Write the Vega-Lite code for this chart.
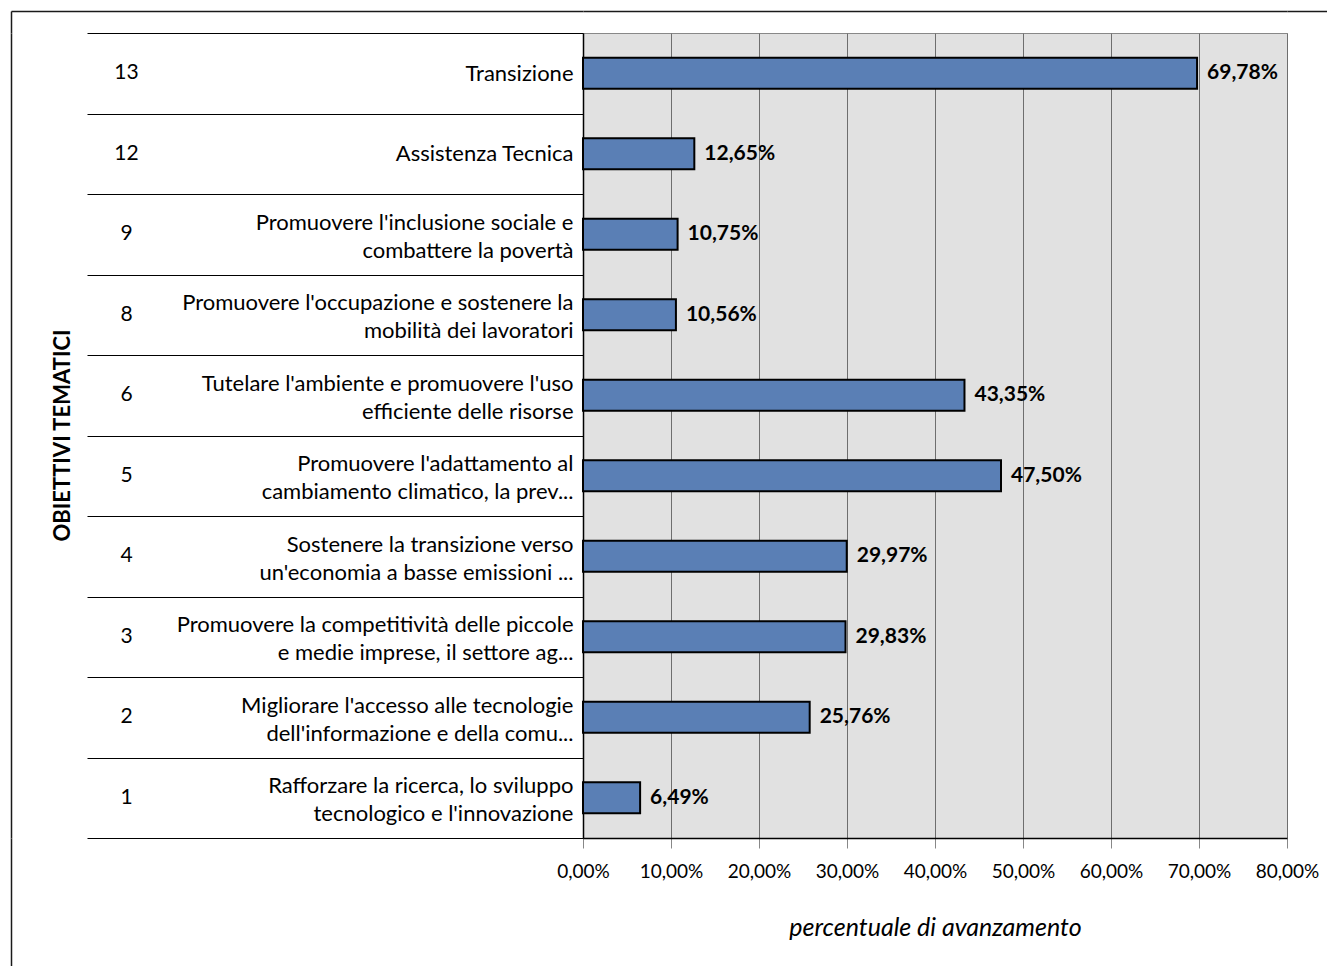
{
  "$schema": "https://vega.github.io/schema/vega-lite/v6.json",
  "width": 704,
  "height": 805,
  "autosize": {"type": "none"},
  "padding": {"left": 583, "top": 33, "right": 40, "bottom": 128},
  "background": "white",
  "config": {
    "locale": {"number": {"decimal": ",", "thousands": ".", "grouping": [3], "currency": ["€", ""]}},
    "font": "Lato",
    "view": {"fill": "#e1e1e1", "stroke": "#888888", "strokeWidth": 1}
  },
  "data": {
    "values": [
      {"num": 13, "obiettivo": "Transizione", "pct": 0.6978},
      {"num": 12, "obiettivo": "Assistenza Tecnica", "pct": 0.1265},
      {"num": 9, "obiettivo": "Promuovere l'inclusione sociale e\ncombattere la povertà", "pct": 0.1075},
      {"num": 8, "obiettivo": "Promuovere l'occupazione e sostenere la\nmobilità dei lavoratori", "pct": 0.1056},
      {"num": 6, "obiettivo": "Tutelare l'ambiente e promuovere l'uso\nefficiente delle risorse", "pct": 0.4335},
      {"num": 5, "obiettivo": "Promuovere l'adattamento al\ncambiamento climatico, la prev...", "pct": 0.475},
      {"num": 4, "obiettivo": "Sostenere la transizione verso\nun'economia a basse emissioni ...", "pct": 0.2997},
      {"num": 3, "obiettivo": "Promuovere la competitività delle piccole\ne medie imprese, il settore ag...", "pct": 0.2983},
      {"num": 2, "obiettivo": "Migliorare l'accesso alle tecnologie\ndell'informazione e della comu...", "pct": 0.2576},
      {"num": 1, "obiettivo": "Rafforzare la ricerca, lo sviluppo\ntecnologico e l'innovazione", "pct": 0.0649}
    ]
  },
  "layer": [
    {
      "layer": [
        {
          "mark": {"type": "bar", "size": 31, "fill": "#5a7fb5", "stroke": "#000000", "strokeWidth": 2},
          "encoding": {
            "y": {
              "field": "obiettivo", "type": "nominal",
              "sort": {"field": "num", "op": "max", "order": "descending"},
              "scale": {"type": "band", "paddingInner": 0, "paddingOuter": 0},
              "axis": {
                "title": null,
                "orient": "left",
                "labelExpr": "isValid(datum.value) ? split(datum.value, '\\n') : ''",
                "tickBand": "extent",
                "tickSize": 496,
                "tickColor": "#000000",
                "tickWidth": 1,
                "labelPadding": -486,
                "labelFontSize": 22,
                "labelLineHeight": 28,
                "labelOffset": {"condition": {"test": "isValid(datum.value) && indexof(datum.value, '\\n') >= 0", "value": -12}, "value": 0},
                "labelLimit": 600,
                "labelColor": "#000000",
                "labelOverlap": false,
                "domainColor": "#000000",
                "domainWidth": 1.5,
                "grid": false
              }
            },
            "x": {
              "field": "pct", "type": "quantitative",
              "scale": {"domain": [0, 0.8], "nice": false, "zero": true},
              "axis": {
                "values": [0, 0.1, 0.2, 0.3, 0.4, 0.5, 0.6, 0.7, 0.8],
                "format": ".2%",
                "grid": true,
                "gridColor": "#6e6e6e",
                "gridWidth": 1,
                "tickColor": "#888888",
                "tickSize": 10,
                "domainColor": "#000000",
                "domainWidth": 1.5,
                "labelFontSize": 19,
                "labelPadding": 14,
                "labelColor": "#000000",
                "labelFlush": false,
                "title": "percentuale di avanzamento",
                "titleFontSize": 25,
                "titleFontStyle": "italic",
                "titleFontWeight": "normal",
                "titleColor": "#000000",
                "titlePadding": 34
              }
            }
          }
        },
        {
          "mark": {"type": "text", "align": "left", "baseline": "middle", "dx": 10, "fontWeight": "bold", "fontSize": 21, "color": "#000000"},
          "encoding": {
            "y": {"field": "obiettivo", "type": "nominal", "sort": {"field": "num", "op": "max", "order": "descending"}},
            "x": {"field": "pct", "type": "quantitative"},
            "text": {"field": "pct", "type": "quantitative", "format": ".2%"}
          }
        }
      ]
    },
    {
      "mark": {"type": "text", "opacity": 0},
      "encoding": {
        "y": {
          "field": "num", "type": "ordinal", "sort": "descending",
          "scale": {"type": "band", "paddingInner": 0, "paddingOuter": 0},
          "axis": {
            "orient": "left",
            "title": "OBIETTIVI TEMATICI",
            "titleFontSize": 22,
            "titleFontWeight": "bold",
            "titleColor": "#000000",
            "titleX": -521,
            "titleY": 402,
            "titleBaseline": "middle",
            "titleAngle": 270,
            "domain": false,
            "ticks": false,
            "grid": false,
            "labelAlign": "center",
            "labelPadding": 457,
            "labelFontSize": 21,
            "labelColor": "#000000"
          }
        },
        "text": {"value": ""}
      }
    },
    {
      "mark": {"type": "text", "opacity": 0},
      "encoding": {
        "y": {
          "field": "pct", "type": "quantitative",
          "scale": {"domain": [0, 1], "nice": false},
          "axis": {
            "orient": "left", "values": [1], "title": null, "labels": false, "domain": false,
            "tickOffset": -22, "tickSize": 572, "tickColor": "#1a1a1a", "tickWidth": 1.5,
            "grid": true, "gridColor": "#1a1a1a", "gridWidth": 1.5
          }
        },
        "text": {"value": ""}
      }
    },
    {
      "mark": {"type": "text", "opacity": 0},
      "encoding": {
        "y": {
          "field": "pct", "type": "quantitative",
          "scale": {"domain": [0, 1], "nice": false},
          "axis": {
            "orient": "right", "values": [1], "title": null, "labels": false, "domain": false,
            "tickOffset": -22, "tickSize": 40, "tickColor": "#1a1a1a", "tickWidth": 1.5, "grid": false
          }
        },
        "text": {"value": ""}
      }
    },
    {
      "mark": {"type": "text", "opacity": 0},
      "encoding": {
        "x": {
          "field": "pct", "type": "quantitative",
          "scale": {"domain": [0, 1], "nice": false},
          "axis": {
            "orient": "bottom", "values": [0], "title": null, "labels": false, "domain": false,
            "tickOffset": -572, "tickSize": 128, "tickColor": "#1a1a1a", "tickWidth": 1.5,
            "grid": true, "gridColor": "#1a1a1a", "gridWidth": 1.5
          }
        },
        "text": {"value": ""}
      }
    },
    {
      "mark": {"type": "text", "opacity": 0},
      "encoding": {
        "x": {
          "field": "pct", "type": "quantitative",
          "scale": {"domain": [0, 1], "nice": false},
          "axis": {
            "orient": "top", "values": [0], "title": null, "labels": false, "domain": false,
            "tickOffset": -572, "tickSize": 22, "tickColor": "#1a1a1a", "tickWidth": 1.5, "grid": false
          }
        },
        "text": {"value": ""}
      }
    }
  ],
  "resolve": {"scale": {"x": "independent", "y": "independent"}}
}
